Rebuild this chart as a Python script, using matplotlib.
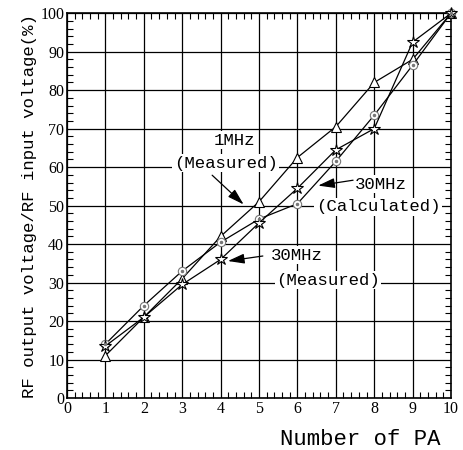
import matplotlib
matplotlib.use("Agg")
import matplotlib.pyplot as plt
from matplotlib.ticker import MultipleLocator

# Number of power amplifiers
n_pa = [1, 2, 3, 4, 5, 6, 7, 8, 9, 10]
# RF output / RF input voltage (%)
mhz1_measured = [11, 21, 31, 42, 51, 62.5, 70.5, 82, 88, 100]
mhz30_calculated = [14, 24, 33, 40.5, 46.5, 50.5, 61.5, 73.5, 86.5, 100]
mhz30_measured = [13.5, 21, 29.5, 36, 45.5, 54.5, 64.5, 70, 92.5, 100]

x_ticks = list(range(0, 11))
y_ticks = list(range(0, 101, 10))

mono = ["Liberation Mono", "DejaVu Sans Mono"]
serif = ["Liberation Serif", "DejaVu Serif"]

fig = plt.figure(figsize=(4.63, 4.5), dpi=100)
ax = fig.add_axes([0.1447, 0.1156, 0.8294, 0.855])

ax.set_xlim(0, 10)
ax.set_ylim(0, 100)
ax.set_xticks(x_ticks)
ax.set_yticks(y_ticks)
ax.xaxis.set_minor_locator(MultipleLocator(0.2))
ax.yaxis.set_minor_locator(MultipleLocator(2))
ax.grid(True, which="major", color="black", linewidth=0.9)
ax.tick_params(which="both", direction="in", top=True, right=True, color="black")
ax.tick_params(which="major", length=0, labelsize=11.5, pad=2)
ax.tick_params(which="minor", length=4, width=0.8)
for lab in ax.get_xticklabels() + ax.get_yticklabels():
    lab.set_family(serif)
for s in ax.spines.values():
    s.set_linewidth(1.2)

ax.plot(n_pa, mhz1_measured, color="black", lw=0.9, marker="^", ms=6.5,
        mfc="white", mec="black", mew=0.8, zorder=5, clip_on=False)
ax.plot(n_pa, mhz30_calculated, color="black", lw=0.9, marker="o", ms=6,
        mfc="white", mec="#777777", mew=0.8, zorder=5, clip_on=False)
ax.plot(n_pa, mhz30_calculated, ls="none", marker=".", ms=3, color="#777777",
        zorder=6, clip_on=False)
ax.plot(n_pa, mhz30_measured, color="black", lw=0.9, marker="*", ms=9,
        mfc="white", mec="black", mew=0.8, zorder=5, clip_on=False)

box = dict(facecolor="white", edgecolor="none", pad=1)
tkw = dict(family=mono, fontsize=12.5, ha="center", va="center", zorder=4)
arrow = dict(arrowstyle="-|>,head_length=1.0,head_width=0.3", color="black",
             lw=0.9, shrinkA=0, shrinkB=0)

ax.text(4.37, 67.0, "1MHz", bbox=box, **tkw)
ax.text(4.13, 61.0, "(Measured)", bbox=box, **tkw)
ax.annotate("", xy=(4.6, 50.3), xytext=(3.78, 57.9), arrowprops=arrow, zorder=4)

ax.text(8.18, 55.6, "30MHz", bbox=box, **tkw)
ax.text(8.1, 49.7, "(Calculated)", bbox=box, **tkw)
ax.annotate("", xy=(6.54, 55.2), xytext=(7.45, 56.6), arrowprops=arrow, zorder=4)

ax.text(5.99, 37.1, "30MHz", bbox=box, **tkw)
ax.text(6.8, 30.6, "(Measured)", bbox=box, **tkw)
ax.annotate("", xy=(4.19, 35.6), xytext=(5.1, 36.9), arrowprops=arrow, zorder=4)

ax.set_ylabel("RF output voltage/RF input voltage(%)", family=mono, fontsize=12.5, labelpad=2)
fig.text(0.951, 0.012, "Number of PA", family=mono, fontsize=16, ha="right", va="baseline")

fig.savefig("out.png", dpi=100, facecolor="white")
